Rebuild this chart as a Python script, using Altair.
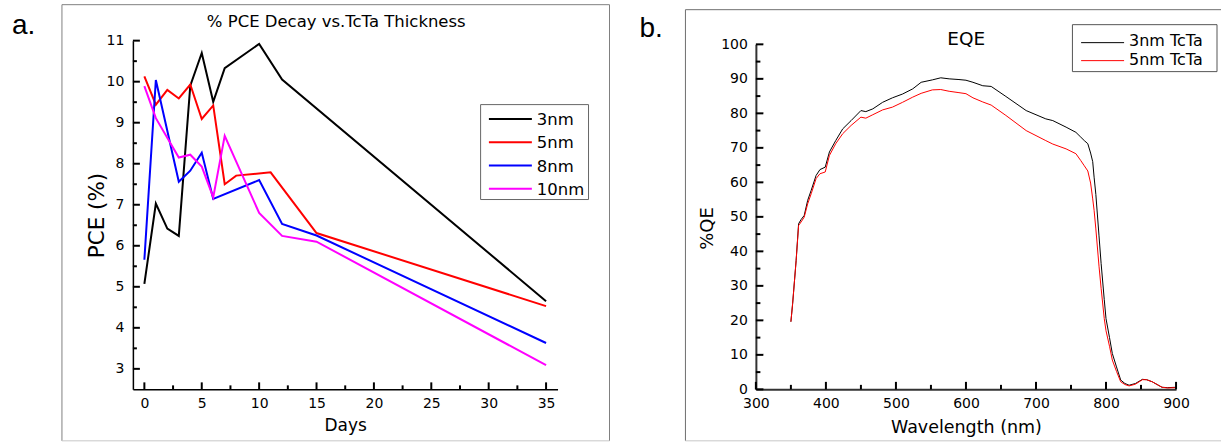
import altair as alt
import pandas as pd

FONT = "DejaVu Sans"

# ---------------- Panel a: % PCE decay vs TcTa thickness ----------------
series_a = ["3nm", "5nm", "8nm", "10nm"]
colors_a = ["#000000", "#ff0000", "#0000ff", "#ff00ff"]

days_3nm = [0, 1, 2, 3, 4, 5, 6, 7, 10, 12, 35]
pce_3nm = [5.07, 7.03, 6.42, 6.24, 9.9, 10.7, 9.51, 10.33, 10.92, 10.05, 4.65]

days_5nm = [0, 1, 2, 3, 4, 5, 6, 7, 8, 11, 15, 35]
pce_5nm = [10.13, 9.44, 9.8, 9.59, 9.93, 9.09, 9.42, 7.5, 7.71, 7.79, 6.31, 4.53]

days_8nm = [0, 1, 3, 4, 5, 6, 10, 12, 15, 35]
pce_8nm = [5.66, 10.04, 7.56, 7.83, 8.27, 7.14, 7.6, 6.53, 6.25, 3.63]

days_10nm = [0, 1, 3, 4, 5, 6, 7, 10, 12, 15, 35]
pce_10nm = [9.89, 9.11, 8.15, 8.22, 7.93, 7.18, 8.68, 6.8, 6.24, 6.1, 3.09]

x_major_a = [0, 5, 10, 15, 20, 25, 30, 35]
x_minor_a = [2.5, 7.5, 12.5, 17.5, 22.5, 27.5, 32.5]
y_major_a = [3, 4, 5, 6, 7, 8, 9, 10, 11]
y_minor_a = [3.5, 4.5, 5.5, 6.5, 7.5, 8.5, 9.5, 10.5]

# ---------------- Panel b: EQE ----------------
series_b = ["3nm TcTa", "5nm TcTa"]
colors_b = ["#000000", "#ff0000"]

wavelength = [350, 352.5, 357.5, 361, 364.5, 369, 374, 379, 386, 391.5, 399, 405, 414, 424,
              436, 450, 457, 467, 481, 495, 509.5, 524, 536, 552, 564, 576, 590, 600, 610,
              624, 636, 657, 686, 714, 724, 743, 757, 764, 769, 774, 778, 781, 783, 785.5,
              790, 793, 797.5, 800, 805, 809, 815, 821, 827, 833, 842, 852, 858, 866, 873,
              880, 888, 900]
eqe_3nm = [19.6, 24.9, 37.4, 48.0, 49.2, 50.4, 54.8, 57.7, 62.0, 63.7, 64.4, 68.8, 72.1, 75.5,
           77.9, 80.8, 80.5, 81.3, 83.2, 84.5, 85.6, 87.1, 89.0, 89.7, 90.3, 90.0, 89.8, 89.6, 89.0,
           88.0, 87.8, 84.9, 80.8, 78.4, 77.9, 76.0, 74.5, 73.1, 72.1, 71.2, 68.5, 66.0, 61.5, 56.5,
           44.5, 36.5, 26.0, 20.5, 15.0, 10.4, 6.5, 2.7, 1.7, 1.2, 1.7, 2.9, 2.8, 2.2, 1.4,
           0.6, 0.5, 0.6]
eqe_5nm = [19.6, 24.9, 37.4, 47.5, 48.5, 49.9, 53.8, 56.7, 61.1, 62.5, 63.0, 67.8, 71.2, 74.1,
           76.5, 78.9, 78.6, 79.6, 81.0, 81.8, 83.2, 84.7, 85.8, 86.8, 86.9, 86.4, 86.0, 85.7, 84.5,
           83.3, 82.4, 79.4, 75.0, 72.1, 71.1, 69.7, 68.3, 66.3, 64.8, 63.3, 59.8, 55.2, 51.9, 46.5,
           35.7, 29.3, 20.5, 17.0, 12.5, 8.5, 5.2, 2.2, 1.4, 1.0, 1.5, 2.8, 2.8, 2.2, 1.4,
           0.6, 0.4, 0.5]

x_major_b = [300, 400, 500, 600, 700, 800, 900]
x_minor_b = [350, 450, 550, 650, 750, 850]
y_major_b = [0, 10, 20, 30, 40, 50, 60, 70, 80, 90, 100]
y_minor_b = [5, 15, 25, 35, 45, 55, 65, 75, 85, 95]

# ---------------- layout constants ----------------
W1, W2, H = 425, 420.5, 349
TOP_B = 3.7  # pixel where 100 % sits in panel b

cscale_a = alt.Scale(domain=series_a, range=colors_a)
cscale_b = alt.Scale(domain=series_b, range=colors_b)


def one():
    return pd.DataFrame({"k": [0]})


def text_layer(txt, x, y, size, align="left", font=FONT):
    return alt.Chart(one()).mark_text(
        text=txt, align=align, baseline="alphabetic", font=font, fontSize=size, color="#000000"
    ).encode(x=alt.value(x), y=alt.value(y))


def hrule(x1, x2, y, color, w=1):
    return alt.Chart(one()).mark_rule(color=color, strokeWidth=w).encode(
        x=alt.value(x1), x2=alt.value(x2), y=alt.value(y))


def vrule(x, y1, y2, color, w=1):
    return alt.Chart(one()).mark_rule(color=color, strokeWidth=w).encode(
        x=alt.value(x), y=alt.value(y1), y2=alt.value(y2))


def box(x1, x2, y1, y2, color):
    return alt.Chart(one()).mark_rect(fill="#ffffff", stroke=color, strokeWidth=1).encode(
        x=alt.value(x1), x2=alt.value(x2), y=alt.value(y1), y2=alt.value(y2))


def x_ticks(vals, scale, axis, length, key, cscale):
    # inward ticks on the bottom axis (drawn upward from the axis line)
    df = pd.DataFrame({"v": vals, "series": [key] * len(vals)})
    return alt.Chart(df).mark_rule(strokeWidth=2).encode(
        x=alt.X("v:Q", scale=scale, axis=axis),
        y=alt.value(H - length), y2=alt.value(H),
        color=alt.Color("series:N", scale=cscale, legend=None))


def y_ticks(vals, scale, axis, length, key, cscale):
    # inward ticks on the left axis (drawn rightward from the axis line)
    df = pd.DataFrame({"v": vals, "series": [key] * len(vals)})
    return alt.Chart(df).mark_rule(strokeWidth=2).encode(
        y=alt.Y("v:Q", scale=scale, axis=axis),
        x=alt.value(0), x2=alt.value(length),
        color=alt.Color("series:N", scale=cscale, legend=None))


# ---------------- Panel a chart ----------------
rows = []
for name, d, v in zip(series_a, [days_3nm, days_5nm, days_8nm, days_10nm],
                      [pce_3nm, pce_5nm, pce_8nm, pce_10nm]):
    for di, vi in zip(d, v):
        rows.append({"series": name, "day": di, "pce": vi})
df_a = pd.DataFrame(rows)

xs_a = alt.Scale(domain=[-1, 36], nice=False, zero=False)
ys_a = alt.Scale(domain=[2.5, 11], nice=False, zero=False)
ax_xa = alt.Axis(values=x_major_a, title="Days", ticks=False, tickSize=0, grid=False,
                 labelFont=FONT, labelFontSize=14, labelColor="#000000", labelPadding=7,
                 labelFlush=False, labelOverlap=False,
                 titleFont=FONT, titleFontSize=17, titleFontWeight="normal", titleColor="#000000",
                 titleX=W1 / 2, titleY=41, titleAlign="center", titleBaseline="alphabetic",
                 domainColor="#000000", domainWidth=1.5)
ax_ya = alt.Axis(values=y_major_a, title="PCE (%)", ticks=False, tickSize=0, grid=False,
                 labelFont=FONT, labelFontSize=14, labelColor="#000000", labelPadding=9,
                 labelFlush=False, labelOverlap=False,
                 titleFont=FONT, titleFontSize=21.5, titleFontWeight="normal", titleColor="#000000",
                 titleX=-29.7, titleY=H / 2, titleAlign="center", titleBaseline="alphabetic",
                 titleAngle=270, domainColor="#000000", domainWidth=1.5)

lines_a = alt.Chart(df_a).mark_line(strokeWidth=2).encode(
    x=alt.X("day:Q", scale=xs_a, axis=ax_xa),
    y=alt.Y("pce:Q", scale=ys_a, axis=ax_ya),
    color=alt.Color("series:N", scale=cscale_a, legend=None),
)

k_a = series_a[0]
layers_a = [
    hrule(-71, 477, -36, "#808080"), vrule(-71, -36, 400.5, "#808080"),
    vrule(477, -36, 400.5, "#808080"), hrule(-71, 477, 400.5, "#c8c8c8"),
    text_layer("a.", -121, -6.5, 28, font="Liberation Sans"),
    text_layer("% PCE Decay vs.TcTa Thickness", 203.5, -13.3, 16.5, align="center"),
    lines_a,
    x_ticks(x_major_a, xs_a, ax_xa, 7, k_a, cscale_a), x_ticks(x_minor_a, xs_a, ax_xa, 4, k_a, cscale_a),
    y_ticks(y_major_a, ys_a, ax_ya, 7, k_a, cscale_a), y_ticks(y_minor_a, ys_a, ax_ya, 4, k_a, cscale_a),
    box(348, 456, 64, 159, "#666666"),
]
for i, (name, col) in enumerate(zip(series_a, colors_a)):
    layers_a.append(hrule(356.3, 399.3, 78.3 + i * 23.33, col, 2))
    layers_a.append(text_layer(name, 404.3, 84.3 + i * 23.33, 16.5))

panel_a = alt.layer(*layers_a).properties(width=W1, height=H)

# ---------------- Panel b chart ----------------
rows = []
for name, vals in zip(series_b, [eqe_3nm, eqe_5nm]):
    for w, v in zip(wavelength, vals):
        rows.append({"series": name, "wl": w, "qe": v})
df_b = pd.DataFrame(rows)

xs_b = alt.Scale(domain=[300, 900], nice=False, zero=False)
ys_b = alt.Scale(domain=[0, 100], range=[H, TOP_B], nice=False, zero=False)
ax_xb = alt.Axis(values=x_major_b, title="Wavelength (nm)", ticks=False, tickSize=0, grid=False,
                 labelFont=FONT, labelFontSize=14, labelColor="#000000", labelPadding=7,
                 labelFlush=False, labelOverlap=False,
                 titleFont=FONT, titleFontSize=17.5, titleFontWeight="normal", titleColor="#000000",
                 titleX=W2 / 2, titleY=43, titleAlign="center", titleBaseline="alphabetic",
                 domainColor="#333333", domainWidth=2)
ax_yb = alt.Axis(values=y_major_b, title="%QE", ticks=False, tickSize=0, grid=False,
                 labelFont=FONT, labelFontSize=14, labelColor="#000000", labelPadding=8.5,
                 labelFlush=False, labelOverlap=False,
                 titleFont=FONT, titleFontSize=18, titleFontWeight="normal", titleColor="#000000",
                 titleX=-43.5, titleY=187.5, titleAlign="center", titleBaseline="alphabetic",
                 titleAngle=270, domainColor="#333333", domainWidth=2)

lines_b = alt.Chart(df_b).mark_line(strokeWidth=1).encode(
    x=alt.X("wl:Q", scale=xs_b, axis=ax_xb),
    y=alt.Y("qe:Q", scale=ys_b, axis=ax_yb),
    color=alt.Color("series:N", scale=cscale_b, legend=None),
)

k_b = series_b[0]
layers_b = [
    hrule(-70.5, 465.5, -31, "#6e6e6e"), vrule(-70.5, -31, 400.5, "#6e6e6e"),
    hrule(-70.5, 465.5, 400.5, "#c8c8c8"),
    text_layer("b.", -116.5, -4, 28, font="Liberation Sans"),
    text_layer("EQE", 210.5, 4, 18.5, align="center"),
    lines_b,
    x_ticks(x_major_b, xs_b, ax_xb, 7.5, k_b, cscale_b), x_ticks(x_minor_b, xs_b, ax_xb, 4.5, k_b, cscale_b),
    y_ticks(y_major_b, ys_b, ax_yb, 7.5, k_b, cscale_b), y_ticks(y_minor_b, ys_b, ax_yb, 4.5, k_b, cscale_b),
    box(316.8, 461.5, -16, 31, "#555555"),
]
for i, (name, col) in enumerate(zip(series_b, colors_b)):
    layers_b.append(hrule(325.5, 368.5, 2 + i * 18, col, 1))
    layers_b.append(text_layer(name, 373.5, 5.5 + i * 19, 16))

panel_b = alt.layer(*layers_b).properties(width=W2, height=H)

chart = alt.hconcat(panel_a, panel_b, spacing=198.5, bounds="flush").properties(
    padding={"left": 12, "top": 3.5, "right": 0, "bottom": 0},
    background="#ffffff",
).configure_view(stroke=None)

chart.save("out.html", embed_options={"renderer": "svg", "actions": False})
